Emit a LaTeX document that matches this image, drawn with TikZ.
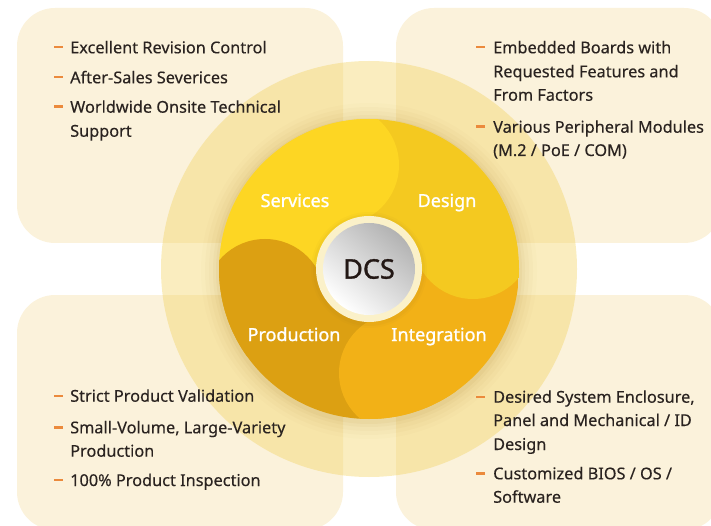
\documentclass[tikz,border=0pt]{standalone}
\usepackage{fontspec}
\setmainfont{Noto Sans}
\newfontfamily\semifont[FakeBold=1.2]{Noto Sans}
\newfontfamily\itemfont[FakeBold=0.3]{Noto Sans}
\definecolor{boxc}{HTML}{FBF2DB}
\definecolor{ringc}{HTML}{F2D35E}
\definecolor{svc}{HTML}{FDD623}
\definecolor{dsg}{HTML}{F4C920}
\definecolor{intg}{HTML}{F2B117}
\definecolor{prod}{HTML}{DCA012}
\definecolor{dashc}{HTML}{EB8A3C}
\definecolor{txtc}{HTML}{2A2320}
\definecolor{ringin}{HTML}{FBF1C9}
\definecolor{shadc}{HTML}{A07820}
\definecolor{dcsc}{HTML}{231815}
\begin{document}
\begin{tikzpicture}[x=1pt,y=-1pt,
  infobox/.style={fill=boxc, rounded corners=38pt},
  item/.style={anchor=base west, inner sep=0pt, text=txtc, font=\itemfont\fontsize{16.3}{20}\selectfont},
  bar/.style={fill=dashc, inner sep=0pt, minimum width=9pt, minimum height=2.4pt},
  lbl/.style={anchor=base, text=white, font=\semifont\fontsize{18}{20}\selectfont, inner sep=0pt}
]
\useasboundingbox (0,0) rectangle (711,526);
\clip (0,0) rectangle (711,526);
% info boxes
\fill[infobox] (17,8) rectangle (343,243);
\fill[infobox] (396,8) rectangle (722,243);
\fill[infobox] (17,295) rectangle (343,530);
\fill[infobox] (396,295) rectangle (722,530);
% outer translucent ring
\fill[ringc, opacity=0.4] (369,269) circle[radius=208pt];
% soft shadow of the disk
\foreach \r/\o in {168/0.02,164/0.03,160/0.035,156/0.045,153/0.06}
  \fill[shadc, opacity=\o] (369,271) circle[radius=\r pt];
% main disk
\begin{scope}
\clip (369,269) circle[radius=150pt];
\fill[svc] (219,119) rectangle (369,269);
\fill[dsg] (369,119) rectangle (519,269);
\fill[intg] (369,269) rectangle (519,419);
\fill[prod] (219,269) rectangle (369,419);
\fill[svc] (339,165) circle[radius=60pt];
\fill[dsg] (473,239) circle[radius=60pt];
\fill[intg] (399,373) circle[radius=60pt];
\fill[prod] (265,299) circle[radius=60pt];
\end{scope}
% centre
\foreach \r/\o in {58/0.04,56/0.06}
  \fill[shadc, opacity=\o] (369,270) circle[radius=\r pt];
\fill[ringin] (369,269) circle[radius=53pt];
\shade[top color=black!30, bottom color=white, shading angle=-40] (369,269) circle[radius=46pt];
\node[text=dcsc, font=\semifont\fontsize{27}{30}\selectfont, inner sep=0pt] (dcs) at (369,269) {DCS};
% segment labels
\node[lbl] (lsvc) at (295,207) {Services};
\node[lbl] (ldsg) at (447,207) {Design};
\node[lbl] (lprod) at (294,341) {Production};
\node[lbl] (lintg) at (439,341) {Integration};
% top-left list
\node[bar] (b1) at (58.5,47.3) {};
\node[item] (t1) at (70,53.3) {Excellent Revision Control};
\node[bar] (b2) at (58.5,77.3) {};
\node[item] (t2) at (70,83.3) {After-Sales Severices};
\node[bar] (b3) at (58.5,106.7) {};
\node[item] (t3) at (70,112.7) {Worldwide Onsite Technical};
\node[item] (t3b) at (70,136.7) {Support};
% top-right list
\node[bar] (b4) at (480.5,47.3) {};
\node[item] (t4) at (493,53.3) {Embedded Boards with};
\node[item] (t4b) at (493,77.3) {Requested Features and};
\node[item] (t4c) at (493,100.7) {From Factors};
\node[bar] (b5) at (480.5,126.7) {};
\node[item] (t5) at (493,132.7) {Various Peripheral Modules};
\node[item] (t5b) at (493,156) {(M.2 / PoE / COM)};
% bottom-left list
\node[bar] (b6) at (58.5,395.7) {};
\node[item] (t6) at (70,401.7) {Strict Product Validation};
\node[bar] (b7) at (58.5,427.3) {};
\node[item] (t7) at (70,433.3) {Small-Volume, Large-Variety};
\node[item] (t7b) at (70,456.7) {Production};
\node[bar] (b8) at (58.5,480) {};
\node[item] (t8) at (70,486) {100\% Product Inspection};
% bottom-right list
\node[bar] (b9) at (480.5,396.7) {};
\node[item] (t9) at (493,402.7) {Desired System Enclosure,};
\node[item] (t9b) at (493,426) {Panel and Mechanical / ID};
\node[item] (t9c) at (493,450) {Design};
\node[bar] (b10) at (480.5,473.3) {};
\node[item] (t10) at (493,479.3) {Customized BIOS / OS /};
\node[item] (t10b) at (493,502.7) {Software};
\end{tikzpicture}
\end{document}
